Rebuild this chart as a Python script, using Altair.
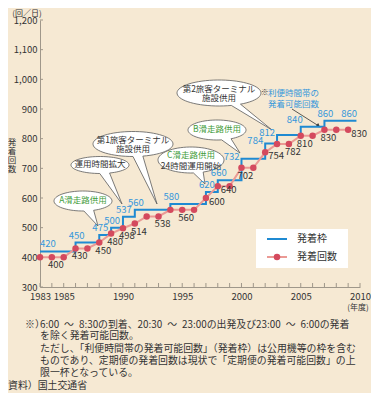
import math
import altair as alt
import pandas as pd

# ---------------- data ----------------
years = list(range(1983, 2010))
slots = [420, 420, 420, 450, 450, 475, 500, 537, 560, 560, 560, 580, 580, 580,
         620, 660, 660, 732, 732, 784, 812, 812, 840, 840, 860, 860, 860]
flights = [400, 400, 400, 430, 430, 450, 480, 498, 514, 538, 538, 560, 560, 560,
           600, 640, 640, 702, 702, 754, 782, 782, 810, 810, 830, 830, 830]
slot_line_end = 2009.7          # the step line runs on a little past the last dot
x_tick_labels = [1983, 1985, 1990, 1995, 2000, 2005, 2010]
x_minor_ticks = list(range(1983, 2011))
y_ticks = list(range(300, 1201, 100))

# which values are labelled, grouped by label placement
slot_labels_first = [1983]
slot_labels_above = [1986, 1988, 1989, 1990, 1991, 1994, 1997, 1998, 2007, 2009]
slot_labels_shift = [2005]
slot_labels_left = [2000, 2002, 2003]
flight_labels_below = [1984, 1986, 1988, 1989, 1990, 1991, 1993, 1995, 2000, 2004, 2005, 2007]
flight_labels_right = [1997, 1998, 2002, 2009]

SP = "\u2002"
footnotes = [
    f"6:00{SP}～{SP}8:30の到着、20:30{SP}～{SP}23:00の出発及び23:00{SP}～{SP}6:00の発着",
    "を除く発着可能回数。",
    "ただし、「利便時間帯の発着可能回数」（発着枠）は公用機等の枠を含む",
    "ものであり、定期便の発着回数は現状で「定期便の発着可能回数」の上",
    "限一杯となっている。",
]

# ---------------- styles ----------------
FONT = "Noto Sans CJK JP"
BG = "#F6E9D3"
BLUE = "#1f8ad2"
BLUE_TXT = "#3597db"
RED_LINE = "#eb9a95"
RED_DOT = "#d44a5e"
GREEN = "#3f9c3a"
DARK = "#333333"
W, H = 320, 267

slot_d = dict(zip(years, slots))
flight_d = dict(zip(years, flights))


def lab_df(yrs, d):
    return pd.DataFrame({"year": yrs, "value": [d[y] for y in yrs],
                         "label": [str(d[y]) for y in yrs]})


label_arr = "[" + ",".join(str(v) for v in x_tick_labels) + "]"
X = alt.X("year:Q",
          scale=alt.Scale(domain=[1983, 2010], nice=False, zero=False),
          axis=alt.Axis(values=x_minor_ticks, ticks=False, grid=False,
                        title=None, labelOverlap=False, labelFlush=False,
                        labelExpr=f"indexof({label_arr}, datum.value) >= 0 ? format(datum.value, 'd') : ''",
                        labelFontSize=9.5, labelColor=DARK, labelPadding=4,
                        domainColor="#9f978a"))
Y = alt.Y("value:Q",
          scale=alt.Scale(domain=[300, 1200], nice=False, zero=False),
          axis=alt.Axis(values=y_ticks, ticks=False, grid=False,
                        labelExpr="format(datum.value, ',')",
                        title=None, labelFontSize=9.5, labelColor=DARK,
                        labelPadding=3, domainColor="#9f978a"))

one = pd.DataFrame({"a": [0]})

slot_df = pd.DataFrame({"year": years + [slot_line_end], "value": slots + [slots[-1]]})
flight_df = pd.DataFrame({"year": years, "value": flights})

layers = []

# inward ticks
layers.append(alt.Chart(pd.DataFrame({"value": y_ticks})).mark_rule(color="#9f978a", strokeWidth=1)
              .encode(y=Y, x=alt.value(0), x2=alt.value(3)))
layers.append(alt.Chart(pd.DataFrame({"year": x_minor_ticks})).mark_rule(color="#9f978a", strokeWidth=1)
              .encode(x=X, y=alt.value(H), y2=alt.value(H - 4)))

# ---------------- speech bubbles ----------------
def bubble_path(rx, ry, tx, ty, half):
    th0 = math.atan2(ty / ry, tx / rx)
    pts = []
    n = 64
    for i in range(n + 1):
        th = th0 + half + (2 * math.pi - 2 * half) * i / n
        pts.append((rx * math.cos(th), ry * math.sin(th)))
    pts.append((tx, ty))
    return "M" + " L".join(f"{x:.2f},{y:.2f}" for x, y in pts) + " Z"


bubbles = [
    # cx, cy, rx, ry, tip dx, tip dy
    (43, 181, 29, 10, 15, 25),
    (60, 145, 29, 8.5, 22, 39),
    (93, 124, 40, 12.5, 24, 60),
    (151, 140, 33, 13, 14, 24),
    (177, 110, 29, 10, 23, 23),
    (179, 73, 42, 13, 53, 37),
]
for cx, cy, rx, ry, tx, ty in bubbles:
    layers.append(alt.Chart(one).mark_point(
        shape=bubble_path(rx, ry, tx, ty, 5.0 / rx), size=4, filled=True,
        fill="white", stroke="#5a5a5a", strokeWidth=0.8, opacity=1)
        .encode(x=alt.value(cx), y=alt.value(cy)))

# (x, y of first line, text, colour)
bubble_texts = [
    (43, 180, "A滑走路供用", GREEN),
    (60, 144, "運用時間拡大", DARK),
    (93, 119.5, "第1旅客ターミナル\n施設供用", DARK),
    (151, 135, "C滑走路供用", GREEN),
    (151, 146, "24時間運用開始", DARK),
    (177, 109, "B滑走路供用", GREEN),
    (179, 68.5, "第2旅客ターミナル\n施設供用", DARK),
]
for x, y, t, c in bubble_texts:
    layers.append(alt.Chart(one).mark_text(fontSize=8.5, color=c, lineBreak="\n",
                                           lineHeight=9.5, align="center", baseline="middle")
                  .encode(x=alt.value(x), y=alt.value(y), text=alt.value(t)))

# note with arrow
layers.append(alt.Chart(one).mark_text(fontSize=7.5, color=DARK, align="left", baseline="middle")
              .encode(x=alt.value(221), y=alt.value(73), text=alt.value("※")))
layers.append(alt.Chart(one).mark_text(fontSize=8.5, color=BLUE_TXT, align="left", baseline="middle",
                                       lineBreak="\n", lineHeight=11)
              .encode(x=alt.value(228), y=alt.value(73), text=alt.value("利便時間帯の\n発着可能回数")))
layers.append(alt.Chart(one).mark_rule(color=DARK, strokeWidth=0.8)
              .encode(x=alt.value(252), y=alt.value(89), x2=alt.value(278), y2=alt.value(105.5)))
layers.append(alt.Chart(one).mark_point(shape="triangle-right", angle=34, size=22, filled=True,
                                        color=DARK, opacity=1)
              .encode(x=alt.value(278.5), y=alt.value(106)))

# ---------------- data series ----------------
layers.append(alt.Chart(slot_df).mark_line(interpolate="step-after", color=BLUE, strokeWidth=2)
              .encode(x=X, y=Y))
layers.append(alt.Chart(flight_df).mark_line(color=RED_LINE, strokeWidth=2).encode(x=X, y=Y))
layers.append(alt.Chart(flight_df).mark_circle(size=42, color=RED_DOT, opacity=1).encode(x=X, y=Y))

# value labels
txt = dict(fontSize=9.5)
layers.append(alt.Chart(lab_df(slot_labels_first, slot_d))
              .mark_text(color=BLUE_TXT, align="left", baseline="middle", dy=-7, **txt)
              .encode(x=X, y=Y, text="label:N"))
layers.append(alt.Chart(lab_df(slot_labels_above, slot_d))
              .mark_text(color=BLUE_TXT, align="center", baseline="middle", dy=-7, dx=1, **txt)
              .encode(x=X, y=Y, text="label:N"))
layers.append(alt.Chart(lab_df(slot_labels_shift, slot_d))
              .mark_text(color=BLUE_TXT, align="center", baseline="middle", dy=-7, dx=-6, **txt)
              .encode(x=X, y=Y, text="label:N"))
layers.append(alt.Chart(lab_df(slot_labels_left, slot_d))
              .mark_text(color=BLUE_TXT, align="right", baseline="middle", dy=-2, dx=-2, **txt)
              .encode(x=X, y=Y, text="label:N"))
layers.append(alt.Chart(lab_df(flight_labels_below, flight_d))
              .mark_text(color=DARK, align="center", baseline="middle", dy=8, dx=4, **txt)
              .encode(x=X, y=Y, text="label:N"))
layers.append(alt.Chart(lab_df(flight_labels_right, flight_d))
              .mark_text(color=DARK, align="left", baseline="middle", dy=4, dx=3, **txt)
              .encode(x=X, y=Y, text="label:N"))

# ---------------- legend (drawn) ----------------
layers.append(alt.Chart(one).mark_rect(color="white")
              .encode(x=alt.value(216), x2=alt.value(308), y=alt.value(209), y2=alt.value(248)))
layers.append(alt.Chart(one).mark_rule(color=BLUE, strokeWidth=2)
              .encode(x=alt.value(227), x2=alt.value(247), y=alt.value(219)))
layers.append(alt.Chart(one).mark_rule(color=RED_LINE, strokeWidth=2)
              .encode(x=alt.value(227), x2=alt.value(247), y=alt.value(237)))
layers.append(alt.Chart(one).mark_circle(size=42, color=RED_DOT, opacity=1)
              .encode(x=alt.value(237), y=alt.value(237)))
layers.append(alt.Chart(one).mark_text(fontSize=10, color=DARK, align="left", baseline="middle")
              .encode(x=alt.value(257), y=alt.value(219), text=alt.value("発着枠")))
layers.append(alt.Chart(one).mark_text(fontSize=10, color=DARK, align="left", baseline="middle")
              .encode(x=alt.value(257), y=alt.value(237), text=alt.value("発着回数")))

# ---------------- axis decorations ----------------
layers.append(alt.Chart(one).mark_text(fontSize=8, color=DARK, align="center", baseline="middle")
              .encode(x=alt.value(-13), y=alt.value(-6.5), text=alt.value("(回／日)")))
layers.append(alt.Chart(one).mark_text(fontSize=8.5, color=DARK, align="center", baseline="middle",
                                       lineBreak="\n", lineHeight=9)
              .encode(x=alt.value(-28), y=alt.value(122), text=alt.value("発\n着\n回\n数")))
layers.append(alt.Chart(one).mark_text(fontSize=8, color=DARK, align="center", baseline="middle")
              .encode(x=alt.value(318), y=alt.value(288), text=alt.value("(年度)")))

# ---------------- footnotes ----------------
layers.append(alt.Chart(one).mark_text(fontSize=9.9, color=DARK, align="left", baseline="middle")
              .encode(x=alt.value(-15), y=alt.value(305), text=alt.value("※）")))
for line, yy in zip(footnotes, [305, 316, 329, 341, 353]):
    layers.append(alt.Chart(one).mark_text(fontSize=9.9, color=DARK, align="left", baseline="middle")
                  .encode(x=alt.value(0), y=alt.value(yy), text=alt.value(line)))
layers.append(alt.Chart(one).mark_text(fontSize=9.9, color=DARK, align="left", baseline="middle")
              .encode(x=alt.value(-32), y=alt.value(366), text=alt.value("資料）国土交通省")))

chart = (alt.layer(*layers)
         .properties(width=W, height=H,
                     padding={"left": 32, "top": 12, "right": 11, "bottom": 106},
                     autosize=alt.AutoSizeParams(type="none"))
         .configure(background=BG, font=FONT)
         .configure_view(stroke=None))

chart.save("out.html", embed_options={"renderer": "svg", "actions": False})
